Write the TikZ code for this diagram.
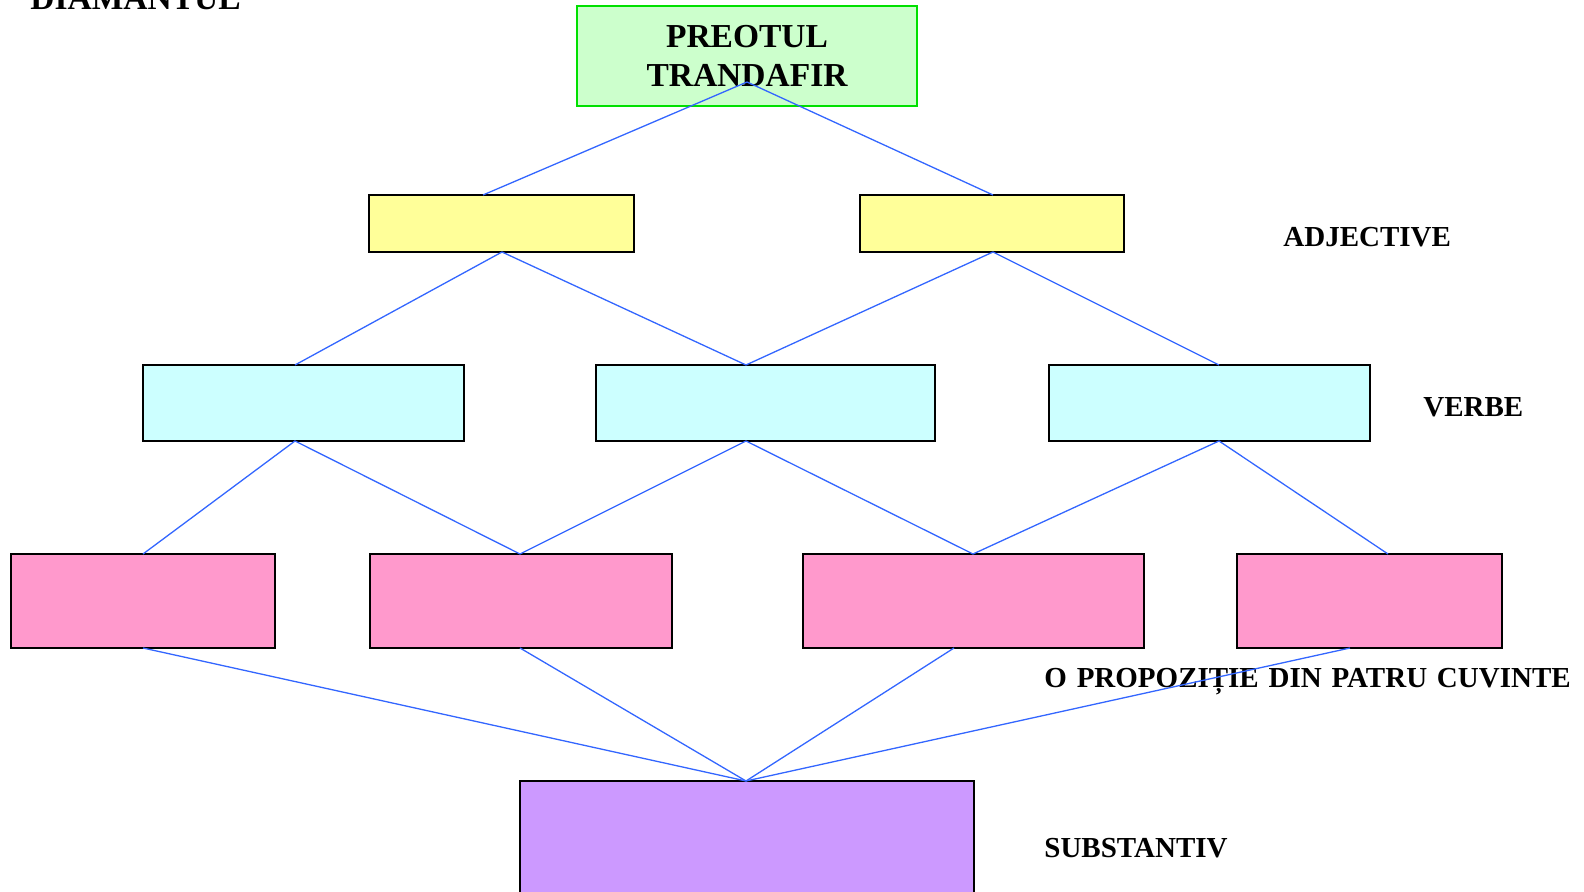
\documentclass[tikz,border=0pt]{standalone}
\usepackage{fontspec}
\setmainfont{Liberation Serif}
\definecolor{titlefill}{HTML}{CCFFCC}
\definecolor{titleline}{HTML}{00E000}
\definecolor{adjfill}{HTML}{FFFF99}
\definecolor{verbfill}{HTML}{CCFFFF}
\definecolor{wordfill}{HTML}{FF99CC}
\definecolor{nounfill}{HTML}{CC99FF}
\definecolor{linkblue}{HTML}{3366FF}
\tikzset{
  box/.style={draw=black, line width=0.8pt, inner sep=0pt, outer sep=0pt},
  titlebox/.style={box, draw=titleline, line width=0.9pt, fill=titlefill, align=center,
    minimum width=170pt, minimum height=50pt, font=\fontsize{16.75}{19.5}\selectfont\bfseries},
  adjbox/.style={box, fill=adjfill, minimum height=28.5pt},
  verbbox/.style={box, fill=verbfill, minimum height=38pt},
  wordbox/.style={box, fill=wordfill, minimum height=47pt},
  nounbox/.style={box, fill=nounfill, minimum width=227pt, minimum height=100pt},
  link/.style={draw=linkblue, line width=0.65pt},
  lbl/.style={anchor=base west, inner sep=0pt, font=\fontsize{14.5}{17}\selectfont\bfseries}
}
\begin{document}
\begin{tikzpicture}[x=0.5pt, y=-0.5pt]
\useasboundingbox (0,0) rectangle (1584,892);
\clip (0,0) rectangle (1584,892);

\node [titlebox] (title) at (747,56) {PREOTUL\\TRANDAFIR};
\node [adjbox, minimum width=132.5pt] (adjL) at (501.5,223.5) {};
\node [adjbox, minimum width=132pt] (adjR) at (992,223.5) {};
\node [verbbox, minimum width=160.5pt] (verbL) at (303.5,403) {};
\node [verbbox, minimum width=169.5pt] (verbM) at (765.5,403) {};
\node [verbbox, minimum width=160.5pt] (verbR) at (1209.5,403) {};
\node [wordbox, minimum width=132pt] (wordA) at (143,601) {};
\node [wordbox, minimum width=151pt] (wordB) at (521,601) {};
\node [wordbox, minimum width=170.5pt] (wordC) at (973.5,601) {};
\node [wordbox, minimum width=132.5pt] (wordD) at (1369.5,601) {};
\node [nounbox] (noun) at (747,881) {};

\node [lbl, font=\fontsize{16.75}{19.5}\selectfont\bfseries] (head) at (30,10) {DIAMANTUL};
\node [lbl] (adjlbl) at (1283,247) {ADJECTIVE};
\node [lbl] (verblbl) at (1423,417) {VERBE};
\node [lbl] (wordlbl) at (1044,687) {\spaceskip=4.9pt O PROPOZIȚIE DIN PATRU CUVINTE};
\node [lbl] (nounlbl) at (1044,857) {SUBSTANTIV};

\coordinate (t) at (747,82);
\coordinate (aLt) at (483,195);  \coordinate (aLb) at (502,252);
\coordinate (aRt) at (993,195);  \coordinate (aRb) at (993,252);
\coordinate (vLt) at (295,365);  \coordinate (vLb) at (295,441);
\coordinate (vMt) at (746,365);  \coordinate (vMb) at (746,441);
\coordinate (vRt) at (1219,365); \coordinate (vRb) at (1219,441);
\coordinate (wAt) at (143,554);  \coordinate (wAb) at (143,648);
\coordinate (wBt) at (520,554);  \coordinate (wBb) at (520,648);
\coordinate (wCt) at (973,554);  \coordinate (wCb) at (954,648);
\coordinate (wDt) at (1388,554); \coordinate (wDb) at (1350,648);
\coordinate (n) at (746,781);

\draw [link] (aLt) -- (t) -- (aRt);
\draw [link] (vLt) -- (aLb) -- (vMt) -- (aRb) -- (vRt);
\draw [link] (wAt) -- (vLb) -- (wBt) -- (vMb) -- (wCt) -- (vRb) -- (wDt);
\foreach \w in {wAb,wBb,wCb,wDb}
  \draw [link] (\w) -- (n);
\end{tikzpicture}
\end{document}
